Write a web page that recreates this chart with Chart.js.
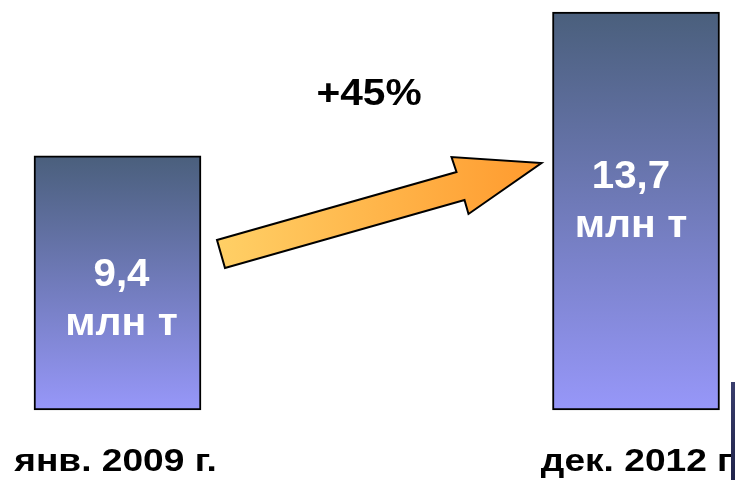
<!DOCTYPE html>
<html>
<head>
<meta charset="utf-8">
<script src="https://cdn.jsdelivr.net/npm/chart.js@4/dist/chart.umd.min.js"></script>
<style>
  html, body { margin: 0; padding: 0; background: #fff; }
  #wrap { width: 735px; height: 480px; }
</style>
</head>
<body>
<div id="wrap"><canvas id="chart" width="735" height="480"></canvas></div>
<script>
// данные
const periods = ['янв. 2009 г.', 'дек. 2012 г.'];
const volumes = [9.4, 13.7];
const unit = 'млн т';
const growthLabel = '+45%';

const FONT = "'Liberation Sans', Arial, sans-serif";
const Y_MIN = 1.8;

function barGradient(context) {
    const chart = context.chart;
    const yScale = chart.scales.y;
    if (!chart.chartArea || !yScale || context.parsed === undefined) return '#6f78b8';
    const top = yScale.getPixelForValue(context.parsed.y);
    const bottom = yScale.getPixelForValue(Y_MIN);
    const g = chart.ctx.createLinearGradient(0, top, 0, bottom);
    g.addColorStop(0, '#4a5f7c');
    g.addColorStop(1, '#9797f9');
    return g;
}

// текст, слегка растянутый по горизонтали (как на слайде)
function stretchText(ctx, text, x, y, font, sx) {
    ctx.save();
    ctx.translate(x, y);
    ctx.scale(sx, 1);
    ctx.font = font;
    ctx.fillText(text, 0, 0);
    ctx.restore();
}

// подписи, стрелка и "+45%"
const decorPlugin = {
    id: 'decor',
    afterDatasetsDraw(chart) {
        const ctx = chart.ctx;
        const bars = chart.getDatasetMeta(0).data;
        if (bars.length < 2) return;
        const b1 = bars[0], b2 = bars[1];

        ctx.save();
        // стрелка
        const r1 = b1.x + b1.width / 2;
        const l2 = b2.x - b2.width / 2;
        const pts = [
            [r1 + 16, 240], [r1 + 24, 268], [l2 - 88, 200], [l2 - 84, 214],
            [l2 - 11, 163], [l2 - 101, 157], [l2 - 96, 172]
        ];
        const g = ctx.createLinearGradient(pts[0][0], 0, pts[4][0], 0);
        g.addColorStop(0, '#ffd066');
        g.addColorStop(1, '#ff9a2e');
        ctx.beginPath();
        ctx.moveTo(pts[0][0], pts[0][1]);
        pts.slice(1).forEach(p => ctx.lineTo(p[0], p[1]));
        ctx.closePath();
        ctx.fillStyle = g;
        ctx.fill();
        ctx.lineWidth = 2;
        ctx.strokeStyle = '#000';
        ctx.stroke();

        ctx.textAlign = 'center';
        ctx.textBaseline = 'middle';

        // +45%
        ctx.fillStyle = '#000';
        stretchText(ctx, growthLabel, 369, 95, 'bold 37px ' + FONT, 1.1);

        // подписи периодов под столбцами
        const xScale = chart.scales.x;
        periods.forEach((p, i) => {
            stretchText(ctx, p, xScale.getPixelForTick(i) - 2 + i * 6, 462, 'bold 32px ' + FONT, 1.16);
        });

        // значения внутри столбцов
        ctx.fillStyle = '#fff';
        bars.forEach((bar, i) => {
            const v = volumes[i].toString().replace('.', ',');
            const cy = bar.y + (i === 0 ? 120 : 166);
            const cx = bar.x + (i === 0 ? 4 : -5);
            stretchText(ctx, v, cx, cy, 'bold 38px ' + FONT, 1.06);
            stretchText(ctx, unit, cx, cy + 48, 'bold 39px ' + FONT, 1.05);
        });

        // край соседней фигуры справа
        const s = ctx.createLinearGradient(0, 380, 0, 480);
        s.addColorStop(0, '#3a3f6e');
        s.addColorStop(1, '#20234a');
        ctx.fillStyle = s;
        ctx.fillRect(731, 382, 4, 98);
        ctx.restore();
    }
};

const ctx = document.getElementById('chart').getContext('2d');
new Chart(ctx, {
    type: 'bar',
    data: {
        labels: periods,
        datasets: [{
            data: volumes,
            backgroundColor: barGradient,
            borderColor: '#000',
            borderWidth: 2,
            borderSkipped: false,
            barThickness: 167,
            base: Y_MIN,
            clip: false
        }]
    },
    options: {
        responsive: false,
        animation: false,
        devicePixelRatio: 1,
        layout: { padding: { left: 117.5, right: 99, top: 12, bottom: 0 } },
        plugins: { legend: { display: false }, tooltip: { enabled: false } },
        scales: {
            y: { display: false, min: Y_MIN, max: 13.7 },
            x: {
                offset: false,
                grid: { display: false, drawTicks: false },
                border: { display: false },
                ticks: { display: false },
                afterFit(scale) {
                    scale.height = 70;
                    scale.paddingLeft = 0;
                    scale.paddingRight = 0;
                }
            }
        }
    },
    plugins: [decorPlugin]
});
</script>
</body>
</html>
